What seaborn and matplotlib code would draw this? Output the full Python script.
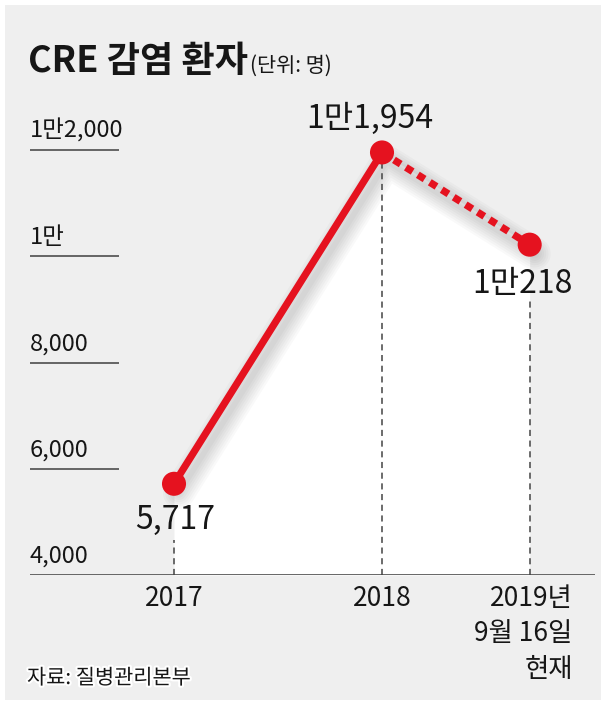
import matplotlib
matplotlib.use('Agg')
import matplotlib.pyplot as plt
import matplotlib.transforms as mtrans
import matplotlib.patheffects as pe
from matplotlib.patches import Rectangle
import seaborn as sns
import pandas as pd
import numpy as np

# ---- data ----
x_labels = ['2017', '2018', '2019년\n9월 16일\n현재']
patients = [5717, 11954, 10218]
value_labels = ['5,717', '1만1,954', '1만218']
y_ticks = [4000, 6000, 8000, 10000, 12000]
y_tick_labels = ['4,000', '6,000', '8,000', '1만', '1만2,000']
title = 'CRE 감염 환자'
unit = '(단위: 명)'
source = '자료: 질병관리본부'

sns.set_theme(style='white')
FONTS = ['Noto Sans CJK KR', 'DejaVu Sans']
plt.rcParams['font.family'] = FONTS

RED = '#e5121f'
TXT = '#161616'
GRID = '#5a5a5a'

# layout: horizontal slots of the three periods (last one is a partial year)
slots = [0.0, 1.0, 1.71]
df = pd.DataFrame({'x': slots, 'y': patients, 'label': x_labels})
xs = df['x'].to_numpy()

W, H = 606, 707
fig = plt.figure(figsize=(W / 100, H / 100), dpi=100)
fig.patch.set_facecolor('white')
fig.patches.append(Rectangle((5 / W, 7 / H), 596 / W, 695 / H, transform=fig.transFigure,
                             facecolor='#efefef', edgecolor='none', zorder=-5))

ax = fig.add_axes([30 / W, (H - 575) / H, 565 / W, 475 / H])
ax.set_zorder(2)
ax.patch.set_alpha(0)

# white area under line
ax.fill_between(df['x'], df['y'], 4000, color='white', zorder=1, lw=0)

# soft shadow
for i in range(7):
    off = mtrans.offset_copy(ax.transData, fig=fig, x=5, y=-9, units='dots')
    ax.plot(df['x'], df['y'], color='black', alpha=0.025, lw=4 + i * 3.2,
            solid_capstyle='round', solid_joinstyle='round', transform=off, zorder=2)

# y grid stubs + baseline
yt = ax.get_yaxis_transform()
for v, lab in zip(y_ticks, y_tick_labels):
    xe = 1.0 if v == 4000 else 89 / 565
    ax.plot([0, xe], [v, v], color=GRID, lw=1.3, transform=yt, zorder=3, solid_capstyle='butt')
    ax.annotate(lab, xy=(0, v), xycoords=yt, xytext=(0, 5), textcoords='offset points',
                ha='left', va='bottom', fontsize=17, color=TXT)

# dashed drop lines
tops = [patients[0] - 1060, patients[1], patients[2] - 1000]
for xv, tv in zip(xs, tops):
    ax.plot([xv, xv], [4000, tv], color='#444444', lw=1.1, ls=(0, (4, 3)), zorder=3)

# main lines
sns.lineplot(data=df.iloc[:2], x='x', y='y', ax=ax, color=RED, lw=5.2,
             solid_capstyle='round', zorder=4)
sns.lineplot(data=df.iloc[1:], x='x', y='y', ax=ax, color=RED, lw=5.2,
             linestyle=(0, (1.1, 0.85)), dash_capstyle='butt', zorder=4)
sns.scatterplot(data=df, x='x', y='y', ax=ax, color=RED, s=300, edgecolor='none',
                zorder=5, legend=False)

ax.set_xlim(-144 / 208, 421 / 208)
ax.set_ylim(4000, 4000 + 475 / (425 / 8000))
for s in ax.spines.values():
    s.set_visible(False)
ax.set_xticks([])
ax.set_yticks([])
ax.set_xlabel('')
ax.set_ylabel('')

# value labels
offs = [(1, -26), (-9, 24), (-5, -28)]
for xv, yv, lab, o in zip(xs, patients, value_labels, offs):
    ax.annotate(lab, xy=(xv, yv), xytext=o, textcoords='offset points',
                ha='center', va='center', fontsize=23, color=TXT)

# x labels
xt = ax.get_xaxis_transform()
for i, (xv, lab) in enumerate(zip(xs, x_labels)):
    if i < 2:
        ax.annotate(lab, xy=(xv, 0), xycoords=xt, xytext=(0, -7),
                    textcoords='offset points', ha='center', va='top', fontsize=19,
                    color=TXT)
    else:
        ax.annotate(lab, xy=(xv, 0), xycoords=xt, xytext=(31, -7),
                    textcoords='offset points', ha='right', va='top', fontsize=19,
                    color=TXT, multialignment='right', linespacing=1.4)

# title
t = fig.text(28 / W, 1 - 72 / H, title, ha='left', va='baseline', fontsize=26,
             color=TXT, fontweight='bold')
fig.canvas.draw()
bb = t.get_window_extent()
fig.text(bb.x1 / W + 2 / W, 1 - 72 / H, unit, ha='left', va='baseline', fontsize=15,
         color=TXT)

# source
fig.text(27 / W, 1 - 678 / H, source, ha='left', va='center', fontsize=15, color=TXT,
         path_effects=[pe.withStroke(linewidth=3, foreground='white')])

fig.savefig('out.png', dpi=100, facecolor='white')
